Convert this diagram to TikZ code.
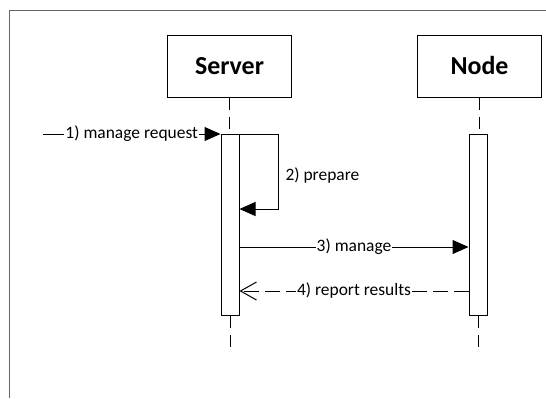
\documentclass[tikz,border=0pt]{standalone}
\usepackage{fontspec}
\setmainfont{Carlito}
\usetikzlibrary{arrows.meta}
\begin{document}
\begin{tikzpicture}[x=1bp, y=-1bp, line width=1bp,
  actor/.style={draw, minimum width=124bp, minimum height=62bp, font=\fontsize{26}{30}\selectfont\bfseries},
  bar/.style={draw, fill=white, minimum width=18bp, minimum height=181bp, inner sep=0pt, anchor=north},
  life/.style={dash pattern=on 12bp off 7bp},
  msg/.style={-{Triangle[length=16bp,width=14bp]}},
  reply/.style={dash pattern=on 15bp off 6bp, -{Straight Barb[length=16bp,width=18bp]}},
  lbl/.style={fill=white, inner sep=1bp, font=\fontsize{17.5}{20}\selectfont}]
	\useasboundingbox (0,0) rectangle (546,398);
	\draw[gray!80!black] (546,10) -- (9,10) -- (9,398);
	\node[actor] (S1) at (229.5,66) {Server};
	\node[actor] (S2) at (479.5,66) {Node};
	\coordinate (L1) at (230,347);
	\coordinate (L2) at (478,347);
	\draw[life] (S1.south) -- (S1.south |- 0,134);
	\draw[life] (S2.south) -- (S2.south |- 0,134);
	\node[bar] (B1) at (230,134) {};
	\node[bar] (B2) at (478,134) {};
	\draw[life] (B1.south) -- (L1);
	\draw[life] (B2.south) -- (L2);
	\coordinate (M0) at (43,134);
	\coordinate (P2) at (278,209);
	\draw[msg] (M0) -- node[lbl] (T1) {1) manage request} (B1.north west);
	\draw[msg] (B1.north east) -| (P2) -- (B1.east |- P2);
	\node[lbl, anchor=west, fill=none] (T2) at (284,176) {2) prepare};
	\draw[msg] (B1.east |- 0,247) -- node[lbl] (T3) {3) manage} (B2.west |- 0,247);
	\draw[reply] (B2.west |- 0,291) -- node[lbl] (T4) {4) report results} (B1.east |- 0,291);
\end{tikzpicture}
\end{document}
